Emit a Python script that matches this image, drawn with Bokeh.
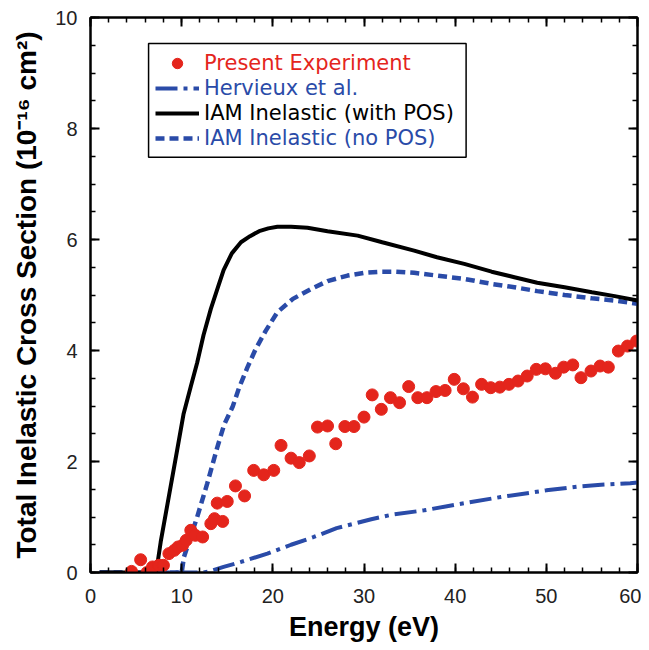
from bokeh.plotting import figure
from bokeh.models import (Range1d, LinearAxis, SingleIntervalTicker, Legend, LegendItem,
                          BoxAnnotation, ColumnDataSource, Whisker, CustomJSTickFormatter)
from bokeh.embed import file_html
from bokeh.resources import INLINE

# ---------------- data ----------------
exp_energy = [4.5, 5.5, 6.2, 6.8, 7.5, 8.0, 8.6, 9.2, 9.6, 10.1, 10.5, 11.0, 11.5, 12.3,
              13.2, 13.6, 13.9, 14.5, 15.0, 15.9, 16.9, 17.9, 19.0, 20.1, 20.9, 22.0,
              22.9, 24.0, 24.9, 26.0, 26.9, 27.9, 28.9, 30.0, 30.9, 31.9, 32.9, 33.9,
              34.9, 35.9, 36.9, 37.9, 38.9, 39.9, 40.9, 41.9, 42.9, 43.9, 44.9, 45.9,
              46.9, 47.9, 48.9, 49.9, 51.0, 51.9, 52.9, 53.8, 54.9, 55.9, 56.8, 57.9,
              58.9, 59.9]
exp_sigma = [0.02, 0.23, 0.0, 0.1, 0.13, 0.13, 0.34, 0.4, 0.46, 0.49, 0.58, 0.76, 0.67,
             0.64, 0.88, 0.97, 1.25, 0.92, 1.28, 1.56, 1.38, 1.84, 1.76, 1.84, 2.29, 2.06,
             1.98, 2.1, 2.62, 2.64, 2.32, 2.63, 2.63, 2.8, 3.2, 2.94, 3.15, 3.06, 3.35,
             3.15, 3.15, 3.26, 3.28, 3.48, 3.31, 3.16, 3.39, 3.33, 3.34, 3.39, 3.45, 3.54,
             3.66, 3.67, 3.59, 3.7, 3.74, 3.51, 3.63, 3.72, 3.7, 3.99, 4.08, 4.17]
exp_err = [0.03, 0.03, 0.03, 0.03, 0.03, 0.03, 0.03, 0.03, 0.03, 0.03, 0.03, 0.04, 0.04,
           0.04, 0.04, 0.04, 0.04, 0.04, 0.04, 0.05, 0.05, 0.05, 0.05, 0.05, 0.05, 0.05,
           0.05, 0.05, 0.05, 0.05, 0.06, 0.06, 0.06, 0.06, 0.06, 0.06, 0.06, 0.06, 0.06,
           0.06, 0.07, 0.07, 0.07, 0.07, 0.07, 0.07, 0.07, 0.07, 0.07, 0.07, 0.07, 0.07,
           0.07, 0.07, 0.07, 0.07, 0.07, 0.07, 0.07, 0.07, 0.07, 0.07, 0.07, 0.07]

with_pos_energy = [1, 7.2, 7.7, 8.3, 8.9, 9.5, 10.2, 11.0, 11.7, 12.4, 13.2, 14.0, 14.6,
                   15.5, 16.5, 17.5, 18.5, 19.5, 20.5, 22.0, 23.8, 26.0, 29.3, 32.0, 35.5,
                   38.0, 41.0, 44.0, 46.5, 49.0, 52.0, 55.0, 57.5, 60.0]
with_pos_sigma = [0, 0, 0.55, 1.1, 1.65, 2.2, 2.85, 3.35, 3.78, 4.28, 4.75, 5.15, 5.45,
                  5.75, 5.95, 6.06, 6.15, 6.2, 6.23, 6.23, 6.21, 6.15, 6.07, 5.95, 5.8,
                  5.68, 5.56, 5.42, 5.32, 5.22, 5.14, 5.05, 4.98, 4.9]

no_pos_energy = [1, 10.0, 10.25, 11.0, 11.7, 12.8, 13.9, 14.65, 15.6, 16.3, 17.2, 18.1,
                 19.2, 20.5, 22.2, 24.2, 26.0, 28.2, 30.0, 31.9, 33.5, 35.5, 38.0, 41.0,
                 44.0, 46.5, 49.0, 52.0, 55.0, 57.5, 60.0]
no_pos_sigma = [0, 0, 0.28, 0.65, 1.0, 1.6, 2.25, 2.66, 2.99, 3.33, 3.69, 4.02, 4.35,
                4.69, 4.93, 5.11, 5.25, 5.35, 5.4, 5.42, 5.42, 5.4, 5.35, 5.29, 5.2,
                5.14, 5.07, 5.0, 4.94, 4.9, 4.84]

herv_energy = [1, 12.4, 13.0, 14.6, 16.5, 19.4, 22.0, 24.5, 27.0, 30.8, 33.0, 36.6, 40.0,
               45.0, 50.0, 53.5, 56.0, 59.2, 60.0]
herv_sigma = [0, 0, 0.02, 0.1, 0.19, 0.34, 0.5, 0.64, 0.8, 0.96, 1.04, 1.12, 1.22, 1.36,
              1.48, 1.55, 1.58, 1.61, 1.62]

RED = "#E4251C"
BLUE = "#2A4BA8"
TICK_FONT = "Liberation Sans"

p = figure(width=641, height=648, output_backend="svg", toolbar_location=None,
           x_range=Range1d(0, 60), y_range=Range1d(0, 10),
           min_border_left=90, min_border_right=4, min_border_top=17, min_border_bottom=76,
           x_axis_label="Energy (eV)",
           y_axis_label="Total Inelastic Cross Section (10\u207b\u00b9\u2076 cm\u00b2)")
p.grid.visible = False
p.background_fill_color = "white"
p.border_fill_color = "white"
p.outline_line_color = "black"
p.outline_line_width = 2

p.xaxis.ticker = SingleIntervalTicker(interval=10, num_minor_ticks=5)
p.yaxis.ticker = SingleIntervalTicker(interval=2, num_minor_ticks=4)


def style_axis(ax):
    ax.axis_line_width = 2
    ax.axis_line_color = "black"
    ax.major_tick_in = 9
    ax.major_tick_out = 0
    ax.minor_tick_in = 5
    ax.minor_tick_out = 0
    ax.major_tick_line_width = 2
    ax.minor_tick_line_width = 1.5
    ax.major_tick_line_color = "black"
    ax.minor_tick_line_color = "black"
    ax.major_label_text_font = TICK_FONT
    ax.major_label_text_font_size = "20px"
    ax.major_label_text_color = "#222222"
    ax.axis_label_text_font = TICK_FONT
    ax.axis_label_text_font_style = "bold"
    ax.axis_label_text_color = "black"


for ax in (p.xaxis[0], p.yaxis[0]):
    style_axis(ax)
p.xaxis.axis_label_text_font_size = "27px"
p.yaxis.axis_label_text_font_size = "28px"
p.xaxis.major_label_standoff = 16
p.xaxis.axis_label_standoff = 6
p.yaxis.major_label_standoff = 13
p.yaxis.axis_label_standoff = 10

top = LinearAxis(ticker=SingleIntervalTicker(interval=10, num_minor_ticks=5),
                 formatter=CustomJSTickFormatter(code="return ''"))
right = LinearAxis(ticker=SingleIntervalTicker(interval=2, num_minor_ticks=4),
                   formatter=CustomJSTickFormatter(code="return ''"))
for ax in (top, right):
    style_axis(ax)
    ax.major_label_standoff = 0
p.add_layout(top, "above")
p.add_layout(right, "right")

# ---------------- curves ----------------
r_herv = p.line(herv_energy, herv_sigma, line_color=BLUE, line_width=4,
                line_dash="22 6 4 6")
r_no = p.line(no_pos_energy, no_pos_sigma, line_color=BLUE, line_width=4.5,
              line_dash="9 5")
r_with = p.line(with_pos_energy, with_pos_sigma, line_color="black", line_width=4)

src = ColumnDataSource(dict(x=exp_energy, y=exp_sigma,
                            lo=[s - e for s, e in zip(exp_sigma, exp_err)],
                            hi=[s + e for s, e in zip(exp_sigma, exp_err)]))
wh = Whisker(base="x", upper="hi", lower="lo", source=src, dimension="height",
             line_color="#B0241A", line_width=1)
wh.upper_head.size = 7
wh.lower_head.size = 7
wh.upper_head.line_color = "#B0241A"
wh.lower_head.line_color = "#B0241A"
p.add_layout(wh)
r_exp = p.scatter("x", "y", source=src, size=12, fill_color=RED, line_color=RED)

# ---------------- legend ----------------
box = BoxAnnotation(left=6.37, right=41.2, bottom=7.48, top=9.53, fill_alpha=0,
                    line_color="black", line_width=1.5, line_alpha=1)
p.add_layout(box)

entries = [("Present Experiment", r_exp, RED),
           ("Hervieux et al.", r_herv, BLUE),
           ("IAM Inelastic (with POS)", r_with, "black"),
           ("IAM Inelastic (no POS)", r_no, BLUE)]
row_bottoms = [496, 471, 446, 421]
for (lab, rend, col), yb in zip(entries, row_bottoms):
    lg = Legend(items=[LegendItem(label=lab, renderers=[rend])], location=(65, yb),
                padding=0, margin=0, spacing=0, border_line_alpha=0,
                background_fill_alpha=0, glyph_width=44, glyph_height=26,
                label_height=26, label_standoff=5,
                label_text_font="DejaVu Sans", label_text_font_size="21px",
                label_text_color=col)
    p.add_layout(lg, "center")

open("out.html", "w").write(file_html(p, INLINE))
